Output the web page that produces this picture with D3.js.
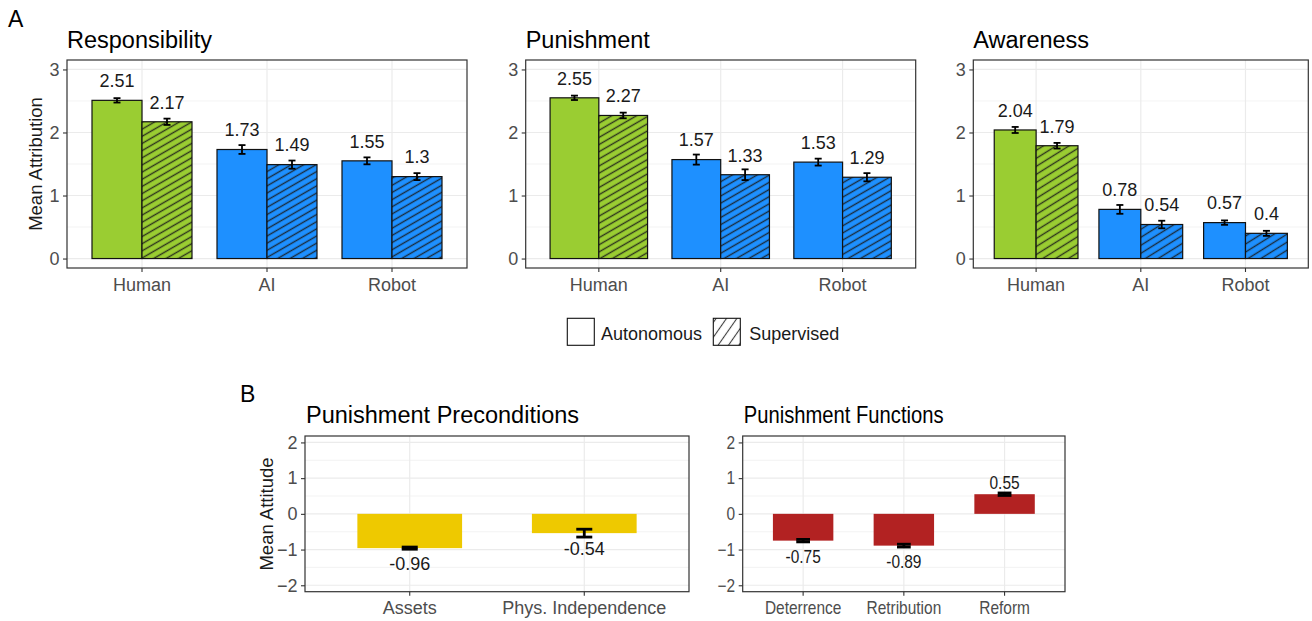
<!DOCTYPE html>
<html><head><meta charset="utf-8">
<script src="https://cdn.jsdelivr.net/npm/d3@7"></script>
<style>
body{margin:0;background:#fff;}
svg{font-family:"Liberation Sans",Arial,sans-serif;}
</style></head>
<body><svg id="c" width="1312" height="621"></svg>
<script>
// ---------- DATA ----------
const groupsA = ["Human", "AI", "Robot"];
const conditions = ["Autonomous", "Supervised"];
const titlesA = ["Responsibility", "Punishment", "Awareness"];
const respAuto = [2.51, 1.73, 1.55];
const respSup = [2.17, 1.49, 1.30];
const respAutoErr = [0.035, 0.07, 0.055];
const respSupErr = [0.05, 0.065, 0.055];
const punAuto = [2.55, 1.57, 1.53];
const punSup = [2.27, 1.33, 1.29];
const punAutoErr = [0.035, 0.08, 0.055];
const punSupErr = [0.045, 0.085, 0.065];
const awaAuto = [2.04, 0.78, 0.57];
const awaSup = [1.79, 0.54, 0.40];
const awaAutoErr = [0.048, 0.07, 0.035];
const awaSupErr = [0.045, 0.06, 0.04];
const yTicksA = [0, 1, 2, 3];
const yMinorA = [0.5, 1.5, 2.5];

const titlesB = ["Punishment Preconditions", "Punishment Functions"];
const precCats = ["Assets", "Phys. Independence"];
const precMeans = [-0.96, -0.54];
const precErr = [0.03, 0.11];
const funcCats = ["Deterrence", "Retribution", "Reform"];
const funcMeans = [-0.75, -0.89, 0.55];
const funcErr = [0.035, 0.04, 0.035];
const yTicksB = [-2, -1, 0, 1, 2];
const yMinorB = [-1.5, -0.5, 0.5, 1.5];

// ---------- STYLE ----------
const groupColor = {Human: "#9ACD32", AI: "#1E90FF", Robot: "#1E90FF"};
const precColor = "#EEC900", funcColor = "#B22222";
const fmt = v => String(+v.toFixed(2));

const svg = d3.select("#c");
const defs = svg.append("defs");
function hatch(id, angle, spacing, sw) {
  const p = defs.append("pattern").attr("id", id).attr("patternUnits", "userSpaceOnUse")
    .attr("width", spacing).attr("height", spacing)
    .attr("patternTransform", `rotate(${-angle})`);
  p.append("line").attr("x1", -1).attr("x2", spacing + 1).attr("y1", spacing / 2).attr("y2", spacing / 2)
    .attr("stroke", "#1a1a1a").attr("stroke-width", sw).attr("stroke-opacity", 0.85);
}
hatch("hatchA", 30, 6.2, 1.4);
hatch("hatchA3", 32, 6.8, 1.4);
hatch("hatchLeg", 55, 8.5, 1.1);

// place a text at (x,y) with optional horizontal compression
function putText(g, x, y, txt, size, anchor, sx, fill) {
  return g.append("text").attr("transform", `translate(${x},${y}) scale(${sx},1)`)
    .attr("dy", "0.35em").attr("text-anchor", anchor).style("font-size", size + "px")
    .attr("fill", fill).text(txt);
}

function panelFrame(g, x, y, w, h, xScale, yScale, ticks, minor) {
  g.append("rect").attr("x", x).attr("y", y).attr("width", w).attr("height", h).attr("fill", "#fff");
  minor.forEach(t => g.append("line").attr("x1", x).attr("x2", x + w).attr("y1", yScale(t)).attr("y2", yScale(t))
    .attr("stroke", "#f0f0f0").attr("stroke-width", 0.8));
  ticks.forEach(t => g.append("line").attr("x1", x).attr("x2", x + w).attr("y1", yScale(t)).attr("y2", yScale(t))
    .attr("stroke", "#ebebeb").attr("stroke-width", 1.2));
  xScale.domain().forEach(c => {
    const cx = xScale(c) + xScale.bandwidth() / 2;
    g.append("line").attr("x1", cx).attr("x2", cx).attr("y1", y).attr("y2", y + h)
      .attr("stroke", "#ebebeb").attr("stroke-width", 1.2);
  });
}
function axes(g, x, y, w, h, xScale, yScale, ticks, sx) {
  const ax = g.append("g").attr("transform", `translate(0,${y + h})`)
    .call(d3.axisBottom(xScale).tickSize(4).tickPadding(6));
  const ay = g.append("g").attr("transform", `translate(${x},0)`)
    .call(d3.axisLeft(yScale).tickValues(ticks).tickSize(4).tickPadding(3.5).tickFormat(d3.format("d")));
  [ax, ay].forEach(a => {
    a.select(".domain").remove();
    a.selectAll(".tick line").attr("stroke", "#333").attr("stroke-width", 1.1);
    a.selectAll(".tick text").attr("fill", "#4d4d4d").style("font-size", "18px")
      .style("font-family", "Liberation Sans, Arial, sans-serif");
  });
  if (sx !== 1) {
    ax.selectAll(".tick text").attr("transform", `scale(${sx},1)`);
    ay.selectAll(".tick text").each(function () {
      const t = d3.select(this); const tx = +t.attr("x");
      t.attr("x", tx / sx).attr("transform", `scale(${sx},1)`);
    });
  }
  g.append("rect").attr("x", x).attr("y", y).attr("width", w).attr("height", h)
    .attr("fill", "none").attr("stroke", "#333").attr("stroke-width", 1.2);
}
function errBar(g, cx, y1, y2, cap, sw) {
  g.append("line").attr("x1", cx).attr("x2", cx).attr("y1", y1).attr("y2", y2).attr("stroke", "#000").attr("stroke-width", sw);
  [y1, y2].forEach(yy => g.append("line").attr("x1", cx - cap / 2).attr("x2", cx + cap / 2).attr("y1", yy).attr("y2", yy)
    .attr("stroke", "#000").attr("stroke-width", sw));
}
function title(txt, x, y, sx) {
  svg.append("text").attr("transform", `translate(${x},${y}) scale(${sx},1)`).text(txt)
    .style("font-size", "23.5px").attr("fill", "#000");
}

// ---------- PANEL A ----------
const panelsA = [
  {x: 67, w: 400, auto: respAuto, sup: respSup, ae: respAutoErr, se: respSupErr, pat: "hatchA"},
  {x: 525.7, w: 390, auto: punAuto, sup: punSup, ae: punAutoErr, se: punSupErr, pat: "hatchA"},
  {x: 973.3, w: 335, auto: awaAuto, sup: awaSup, ae: awaAutoErr, se: awaSupErr, pat: "hatchA3"}
];
const topA = 60, hA = 208;
panelsA.forEach((p, i) => {
  const g = svg.append("g");
  const xs = d3.scaleBand().domain(groupsA).range([p.x, p.x + p.w]).paddingInner(0).paddingOuter(0.1);
  const ys = d3.scaleLinear().domain([-0.15, 3.15]).range([topA + hA, topA]);
  const sub = d3.scaleBand().domain(conditions).range([0, xs.bandwidth() * 0.8]);
  panelFrame(g, p.x, topA, p.w, hA, xs, ys, yTicksA, yMinorA);
  groupsA.forEach((grp, j) => {
    const base = xs(grp) + xs.bandwidth() * 0.1;
    conditions.forEach((cond, k) => {
      const v = k === 0 ? p.auto[j] : p.sup[j];
      const e = k === 0 ? p.ae[j] : p.se[j];
      const bx = base + sub(cond), bw = sub.bandwidth();
      g.append("rect").attr("x", bx).attr("y", ys(v)).attr("width", bw).attr("height", ys(0) - ys(v))
        .attr("fill", groupColor[grp]);
      if (k === 1) g.append("rect").attr("x", bx).attr("y", ys(v)).attr("width", bw).attr("height", ys(0) - ys(v))
        .attr("fill", `url(#${p.pat})`);
      g.append("rect").attr("x", bx).attr("y", ys(v)).attr("width", bw).attr("height", ys(0) - ys(v))
        .attr("fill", "none").attr("stroke", "#111").attr("stroke-width", 1.2);
      errBar(g, bx + bw / 2, ys(v + e), ys(v - e), 7, 1.8);
      putText(g, bx + bw / 2, ys(v) - 19.5, fmt(v), 18, "middle", 1, "#1a1a1a");
    });
  });
  axes(g, p.x, topA, p.w, hA, xs, ys, yTicksA, 1);
  title(titlesA[i], p.x, 48, 1);
});
svg.append("text").attr("x", 8).attr("y", 27).text("A").style("font-size", "23px");
svg.append("text").attr("transform", "translate(42,164) rotate(-90)").attr("text-anchor", "middle")
  .style("font-size", "18.5px").attr("fill", "#1a1a1a").text("Mean Attribution");

// legend
const leg = svg.append("g");
const legX = [567.3, 713.3], legTx = [601, 749.3];
conditions.forEach((c, k) => {
  leg.append("rect").attr("x", legX[k]).attr("y", 318.3).attr("width", 27).attr("height", 27).attr("fill", "#fff");
  if (k === 1) leg.append("rect").attr("x", legX[k]).attr("y", 318.3).attr("width", 27).attr("height", 27).attr("fill", "url(#hatchLeg)");
  leg.append("rect").attr("x", legX[k]).attr("y", 318.3).attr("width", 27).attr("height", 27)
    .attr("fill", "none").attr("stroke", "#111").attr("stroke-width", 1.1);
  putText(leg, legTx[k], 333.3, c, 18, "start", 1, "#1a1a1a");
});

// ---------- PANEL B ----------
const panelsB = [
  {x: 305, w: 384, cats: precCats, means: precMeans, err: precErr, color: precColor, sx: 1},
  {x: 742.7, w: 322.3, cats: funcCats, means: funcMeans, err: funcErr, color: funcColor, sx: 0.86}
];
const topB = 436, hB = 155.7;
panelsB.forEach((p, i) => {
  const g = svg.append("g");
  const xs = d3.scaleBand().domain(p.cats).range([p.x, p.x + p.w]).paddingInner(0).paddingOuter(0.1);
  const ys = d3.scaleLinear().domain([-2.18, 2.18]).range([topB + hB, topB]);
  panelFrame(g, p.x, topB, p.w, hB, xs, ys, yTicksB, yMinorB);
  p.cats.forEach((c, j) => {
    const v = p.means[j], e = p.err[j];
    const bw = xs.bandwidth() * 0.6, bx = xs(c) + xs.bandwidth() * 0.2;
    g.append("rect").attr("x", bx).attr("y", Math.min(ys(v), ys(0))).attr("width", bw)
      .attr("height", Math.abs(ys(0) - ys(v))).attr("fill", p.color);
    errBar(g, bx + bw / 2, ys(v + e), ys(v - e), 16 * p.sx, 2.8);
    const ty = v < 0 ? ys(v) + 16 : ys(v) - 11.5;
    putText(g, bx + bw / 2, ty, fmt(v), 18, "middle", p.sx, "#1a1a1a");
  });
  axes(g, p.x, topB, p.w, hB, xs, ys, yTicksB, p.sx);
  title(titlesB[i], p.x + 1, 422.7, p.sx);
});
svg.append("text").attr("x", 240).attr("y", 402).text("B").style("font-size", "23px");
svg.append("text").attr("transform", "translate(273,514) rotate(-90)").attr("text-anchor", "middle")
  .style("font-size", "18.5px").attr("fill", "#1a1a1a").text("Mean Attitude");
</script></body></html>
